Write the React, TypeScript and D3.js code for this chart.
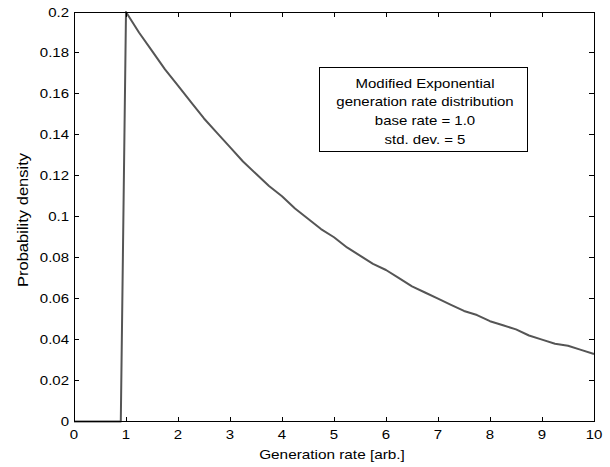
import React from "react";
import * as d3 from "d3";

// Generation rate samples [arb.] and probability density read at each sample
const rates = [
  0, 0.5, 0.9, 1.0, 1.25, 1.5, 1.75, 2.0, 2.25, 2.5, 2.75, 3.0, 3.25, 3.5, 3.75, 4.0,
  4.25, 4.5, 4.75, 5.0, 5.25, 5.5, 5.75, 6.0, 6.25, 6.5, 6.75, 7.0, 7.25, 7.5, 7.75,
  8.0, 8.25, 8.5, 8.75, 9.0, 9.25, 9.5, 9.75, 10.0,
];
const density = [
  0, 0, 0, 0.2, 0.19, 0.181, 0.172, 0.164, 0.156, 0.148, 0.141, 0.134, 0.127, 0.121, 0.115, 0.11,
  0.104, 0.099, 0.094, 0.09, 0.085, 0.081, 0.077, 0.074, 0.07, 0.066, 0.063, 0.06, 0.057, 0.054, 0.052,
  0.049, 0.047, 0.045, 0.042, 0.04, 0.038, 0.037, 0.035, 0.033,
];

const xTicks = [0, 1, 2, 3, 4, 5, 6, 7, 8, 9, 10];
const yTicks = [0, 0.02, 0.04, 0.06, 0.08, 0.1, 0.12, 0.14, 0.16, 0.18, 0.2];

const noteLines = [
  "Modified Exponential",
  "generation rate distribution",
  "base rate = 1.0",
  "std. dev. = 5",
];

const W = 610;
const H = 467;
const M = { left: 74, right: 16, top: 12, bottom: 45.5 };
const font = "'Liberation Sans', Arial, sans-serif";
const FS = 12.6;
const STRETCH = 1.19;

type LabelProps = {
  x: number;
  y: number;
  anchor: "start" | "middle" | "end";
  rotate?: number;
  size?: number;
  children: React.ReactNode;
};

// Text drawn with the wide glyph proportions of the figure's font
function Label({ x, y, anchor, rotate = 0, size = FS, children }: LabelProps) {
  return (
    <g transform={`translate(${x},${y}) rotate(${rotate}) scale(${STRETCH},1)`}>
      <text x={0} y={0} fontSize={size} textAnchor={anchor} fill="#000">
        {children}
      </text>
    </g>
  );
}

export default function App() {
  const x = d3.scaleLinear().domain([0, 10]).range([M.left, W - M.right]);
  const y = d3.scaleLinear().domain([0, 0.2]).range([H - M.bottom, M.top]);
  const line = d3
    .line<number>()
    .x((_, i) => x(rates[i]))
    .y((d) => y(d));

  const x0 = x(0), x1 = x(10), y0 = y(0), y1 = y(0.2);

  return (
    <svg
      width={W}
      height={H}
      style={{ position: "absolute", left: 0, top: 0, background: "#fff" }}
      fontFamily={font}
    >
      <path d={line(density) ?? ""} fill="none" stroke="#555" strokeWidth={2} strokeLinejoin="round" />
      <rect x={x0} y={y1} width={x1 - x0} height={y0 - y1} fill="none" stroke="#000" strokeWidth={1} shapeRendering="crispEdges" />
      {xTicks.map((t) => (
        <g key={"x" + t}>
          <line x1={x(t)} x2={x(t)} y1={y0} y2={y0 - 5} stroke="#000" shapeRendering="crispEdges" />
          <line x1={x(t)} x2={x(t)} y1={y1} y2={y1 + 5} stroke="#000" shapeRendering="crispEdges" />
          <Label x={x(t)} y={y0 + 17.5} anchor="middle">{t}</Label>
        </g>
      ))}
      {yTicks.map((t) => (
        <g key={"y" + t}>
          <line x1={x0} x2={x0 + 5} y1={y(t)} y2={y(t)} stroke="#000" shapeRendering="crispEdges" />
          <line x1={x1} x2={x1 - 5} y1={y(t)} y2={y(t)} stroke="#000" shapeRendering="crispEdges" />
          <Label x={x0 - 5} y={y(t) + 4.5} anchor="end">{d3.format("~g")(t)}</Label>
        </g>
      ))}
      <Label x={332} y={459} anchor="middle" size={12.9}>Generation rate [arb.]</Label>
      <Label x={28} y={220} anchor="middle" rotate={-90} size={13.9}>Probability density</Label>
      <rect x={319.5} y={67.5} width={208} height={84} fill="#fff" stroke="#000" strokeWidth={1} />
      {noteLines.map((s, i) => (
        <Label key={s} x={425} y={87.5 + i * 18.8} anchor="middle">{s}</Label>
      ))}
    </svg>
  );
}
